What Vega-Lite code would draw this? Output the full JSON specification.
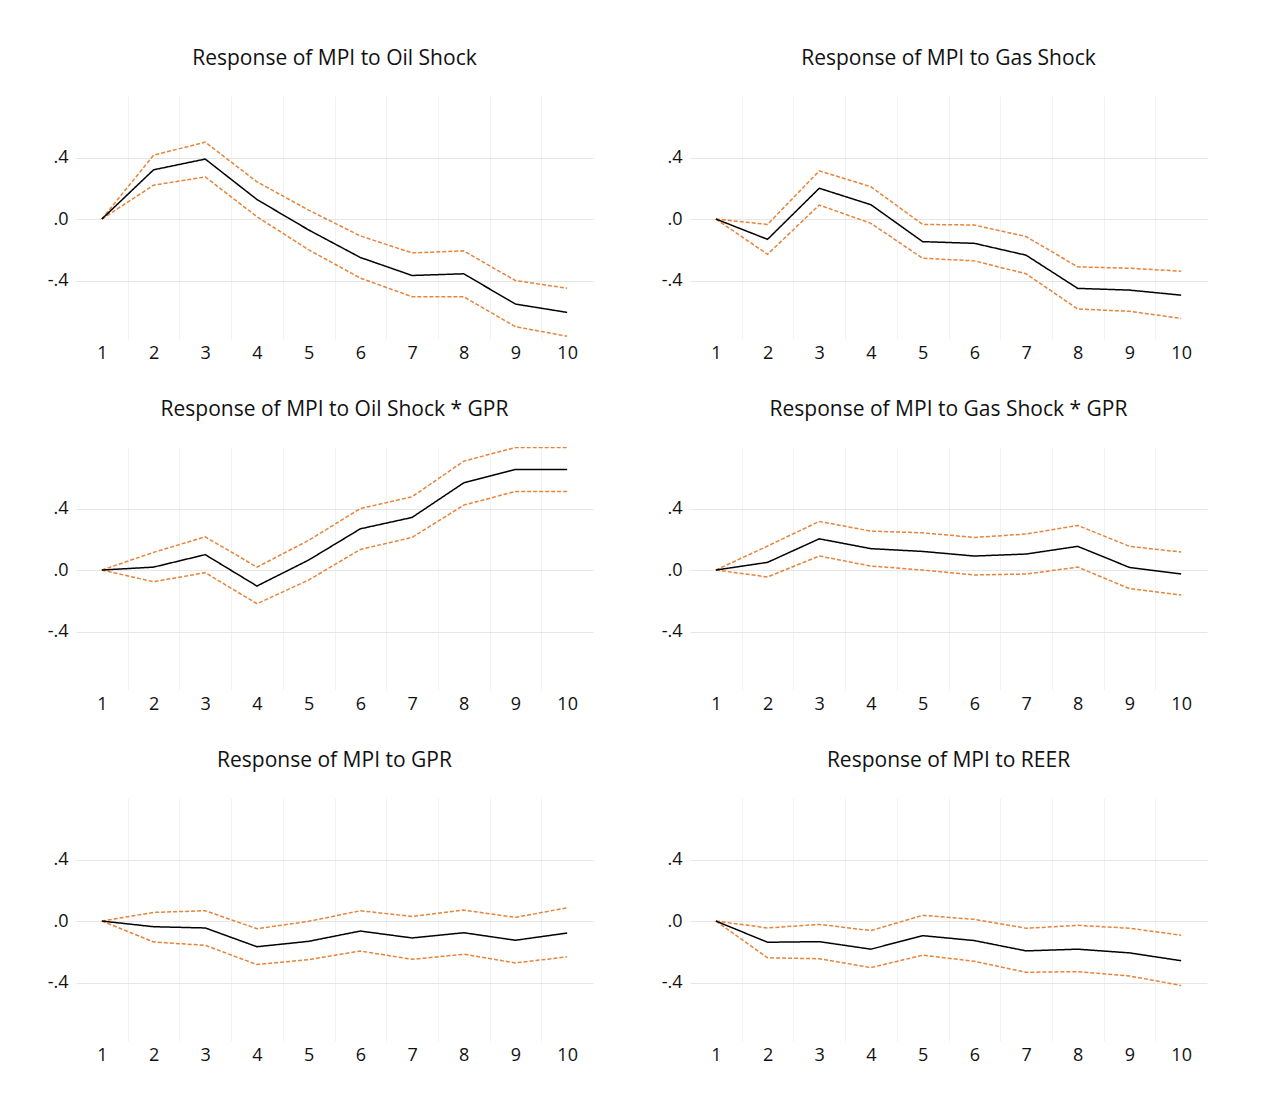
{
  "$schema": "https://vega.github.io/schema/vega-lite/v6.json",
  "padding": {"left": 47, "top": 48, "right": 15, "bottom": 10},
  "background": "white",
  "data": {"values": [
    {"p": "Response of MPI to Oil Shock", "s": 1, "r": 0, "lo": 0, "hi": 0},
    {"p": "Response of MPI to Oil Shock", "s": 2, "r": 0.32, "lo": 0.22, "hi": 0.415},
    {"p": "Response of MPI to Oil Shock", "s": 3, "r": 0.39, "lo": 0.274, "hi": 0.5},
    {"p": "Response of MPI to Oil Shock", "s": 4, "r": 0.127, "lo": 0.015, "hi": 0.242},
    {"p": "Response of MPI to Oil Shock", "s": 5, "r": -0.071, "lo": -0.2, "hi": 0.058},
    {"p": "Response of MPI to Oil Shock", "s": 6, "r": -0.25, "lo": -0.384, "hi": -0.11},
    {"p": "Response of MPI to Oil Shock", "s": 7, "r": -0.367, "lo": -0.505, "hi": -0.22},
    {"p": "Response of MPI to Oil Shock", "s": 8, "r": -0.356, "lo": -0.505, "hi": -0.207},
    {"p": "Response of MPI to Oil Shock", "s": 9, "r": -0.553, "lo": -0.7, "hi": -0.4},
    {"p": "Response of MPI to Oil Shock", "s": 10, "r": -0.607, "lo": -0.762, "hi": -0.45},
    {"p": "Response of MPI to Gas Shock", "s": 1, "r": 0, "lo": 0, "hi": 0},
    {"p": "Response of MPI to Gas Shock", "s": 2, "r": -0.132, "lo": -0.229, "hi": -0.035},
    {"p": "Response of MPI to Gas Shock", "s": 3, "r": 0.2, "lo": 0.091, "hi": 0.313},
    {"p": "Response of MPI to Gas Shock", "s": 4, "r": 0.093, "lo": -0.028, "hi": 0.21},
    {"p": "Response of MPI to Gas Shock", "s": 5, "r": -0.147, "lo": -0.255, "hi": -0.035},
    {"p": "Response of MPI to Gas Shock", "s": 6, "r": -0.158, "lo": -0.272, "hi": -0.039},
    {"p": "Response of MPI to Gas Shock", "s": 7, "r": -0.235, "lo": -0.356, "hi": -0.114},
    {"p": "Response of MPI to Gas Shock", "s": 8, "r": -0.451, "lo": -0.585, "hi": -0.311},
    {"p": "Response of MPI to Gas Shock", "s": 9, "r": -0.462, "lo": -0.6, "hi": -0.32},
    {"p": "Response of MPI to Gas Shock", "s": 10, "r": -0.495, "lo": -0.646, "hi": -0.339},
    {"p": "Response of MPI to Oil Shock * GPR", "s": 1, "r": 0, "lo": 0, "hi": 0},
    {"p": "Response of MPI to Oil Shock * GPR", "s": 2, "r": 0.019, "lo": -0.076, "hi": 0.115},
    {"p": "Response of MPI to Oil Shock * GPR", "s": 3, "r": 0.1, "lo": -0.017, "hi": 0.216},
    {"p": "Response of MPI to Oil Shock * GPR", "s": 4, "r": -0.104, "lo": -0.219, "hi": 0.019},
    {"p": "Response of MPI to Oil Shock * GPR", "s": 5, "r": 0.065, "lo": -0.065, "hi": 0.193},
    {"p": "Response of MPI to Oil Shock * GPR", "s": 6, "r": 0.268, "lo": 0.134, "hi": 0.4},
    {"p": "Response of MPI to Oil Shock * GPR", "s": 7, "r": 0.342, "lo": 0.212, "hi": 0.476},
    {"p": "Response of MPI to Oil Shock * GPR", "s": 8, "r": 0.567, "lo": 0.422, "hi": 0.708},
    {"p": "Response of MPI to Oil Shock * GPR", "s": 9, "r": 0.654, "lo": 0.511, "hi": 0.797},
    {"p": "Response of MPI to Oil Shock * GPR", "s": 10, "r": 0.654, "lo": 0.511, "hi": 0.797},
    {"p": "Response of MPI to Gas Shock * GPR", "s": 1, "r": 0, "lo": 0, "hi": 0},
    {"p": "Response of MPI to Gas Shock * GPR", "s": 2, "r": 0.05, "lo": -0.045, "hi": 0.156},
    {"p": "Response of MPI to Gas Shock * GPR", "s": 3, "r": 0.203, "lo": 0.091, "hi": 0.316},
    {"p": "Response of MPI to Gas Shock * GPR", "s": 4, "r": 0.139, "lo": 0.026, "hi": 0.253},
    {"p": "Response of MPI to Gas Shock * GPR", "s": 5, "r": 0.121, "lo": 0.0, "hi": 0.242},
    {"p": "Response of MPI to Gas Shock * GPR", "s": 6, "r": 0.091, "lo": -0.032, "hi": 0.212},
    {"p": "Response of MPI to Gas Shock * GPR", "s": 7, "r": 0.104, "lo": -0.026, "hi": 0.234},
    {"p": "Response of MPI to Gas Shock * GPR", "s": 8, "r": 0.154, "lo": 0.019, "hi": 0.29},
    {"p": "Response of MPI to Gas Shock * GPR", "s": 9, "r": 0.017, "lo": -0.121, "hi": 0.154},
    {"p": "Response of MPI to Gas Shock * GPR", "s": 10, "r": -0.026, "lo": -0.162, "hi": 0.117},
    {"p": "Response of MPI to GPR", "s": 1, "r": 0, "lo": 0, "hi": 0},
    {"p": "Response of MPI to GPR", "s": 2, "r": -0.037, "lo": -0.136, "hi": 0.056},
    {"p": "Response of MPI to GPR", "s": 3, "r": -0.045, "lo": -0.158, "hi": 0.067},
    {"p": "Response of MPI to GPR", "s": 4, "r": -0.167, "lo": -0.283, "hi": -0.05},
    {"p": "Response of MPI to GPR", "s": 5, "r": -0.132, "lo": -0.251, "hi": -0.002},
    {"p": "Response of MPI to GPR", "s": 6, "r": -0.065, "lo": -0.195, "hi": 0.067},
    {"p": "Response of MPI to GPR", "s": 7, "r": -0.11, "lo": -0.249, "hi": 0.03},
    {"p": "Response of MPI to GPR", "s": 8, "r": -0.076, "lo": -0.216, "hi": 0.071},
    {"p": "Response of MPI to GPR", "s": 9, "r": -0.125, "lo": -0.272, "hi": 0.024},
    {"p": "Response of MPI to GPR", "s": 10, "r": -0.078, "lo": -0.233, "hi": 0.086},
    {"p": "Response of MPI to REER", "s": 1, "r": 0, "lo": 0, "hi": 0},
    {"p": "Response of MPI to REER", "s": 2, "r": -0.138, "lo": -0.239, "hi": -0.045},
    {"p": "Response of MPI to REER", "s": 3, "r": -0.134, "lo": -0.245, "hi": -0.022},
    {"p": "Response of MPI to REER", "s": 4, "r": -0.183, "lo": -0.303, "hi": -0.062},
    {"p": "Response of MPI to REER", "s": 5, "r": -0.095, "lo": -0.222, "hi": 0.037},
    {"p": "Response of MPI to REER", "s": 6, "r": -0.127, "lo": -0.262, "hi": 0.011},
    {"p": "Response of MPI to REER", "s": 7, "r": -0.194, "lo": -0.333, "hi": -0.047},
    {"p": "Response of MPI to REER", "s": 8, "r": -0.183, "lo": -0.329, "hi": -0.028},
    {"p": "Response of MPI to REER", "s": 9, "r": -0.207, "lo": -0.357, "hi": -0.047},
    {"p": "Response of MPI to REER", "s": 10, "r": -0.258, "lo": -0.419, "hi": -0.092}
  ]},
  "transform": [{"fold": ["hi", "lo", "r"], "as": ["k", "v"]}],
  "facet": {
    "field": "p",
    "type": "nominal",
    "sort": ["Response of MPI to Oil Shock", "Response of MPI to Gas Shock", "Response of MPI to Oil Shock * GPR", "Response of MPI to Gas Shock * GPR", "Response of MPI to GPR", "Response of MPI to REER"],
    "header": {"title": null, "labelFont": "Open Sans", "labelFontSize": 21, "labelColor": "#111111", "labelPadding": 27}
  },
  "columns": 2,
  "spacing": {"row": 37, "column": 68},
  "resolve": {"axis": {"x": "independent", "y": "independent"}},
  "spec": {
    "width": 517,
    "height": 243,
    "mark": {"type": "line", "strokeWidth": 1.5, "clip": true},
    "encoding": {
      "x": {
        "field": "s", "type": "quantitative",
        "scale": {"domain": [0.5, 10.5], "nice": false, "zero": false},
        "axis": {
          "title": null,
          "values": [1, 1.5, 2, 2.5, 3, 3.5, 4, 4.5, 5, 5.5, 6, 6.5, 7, 7.5, 8, 8.5, 9, 9.5, 10],
          "labelExpr": "datum.value % 1 === 0 ? format(datum.value, 'd') : ''",
          "labelOverlap": false,
          "labelFlush": false,
          "labelPadding": 5,
          "grid": true,
          "gridColor": "#f2f2f2",
          "gridOpacity": {"condition": {"test": "datum.value % 1 === 0", "value": 0}, "value": 1}
        }
      },
      "y": {
        "field": "v", "type": "quantitative",
        "scale": {"domain": [-0.78, 0.8], "nice": false, "zero": false},
        "axis": {
          "title": null,
          "values": [-0.4, 0, 0.4],
          "labelExpr": "replace(replace(format(datum.value, '.1f'), '\u2212', '-'), '0.', '.')",
          "labelPadding": 8,
          "grid": true,
          "gridColor": "#e6e6e6"
        }
      },
      "detail": {"field": "k"},
      "color": {"field": "k", "type": "nominal", "scale": {"domain": ["hi", "lo", "r"], "range": ["#E8833A", "#E8833A", "#000000"]}, "legend": null},
      "strokeDash": {"field": "k", "type": "nominal", "scale": {"domain": ["hi", "lo", "r"], "range": [[4, 2], [4, 2], [1, 0]]}, "legend": null},
      "order": {"field": "s", "type": "quantitative"}
    }
  },
  "config": {
    "view": {"stroke": null},
    "axis": {"domain": false, "ticks": false, "labelFont": "Open Sans", "labelFontSize": 18, "labelColor": "#111111"}
  }
}
